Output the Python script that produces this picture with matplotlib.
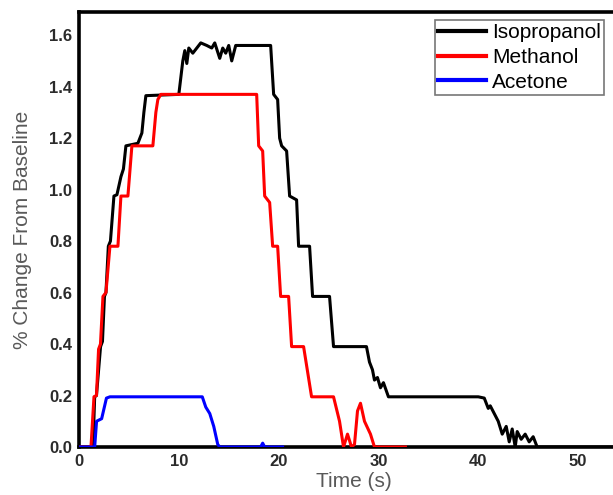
import numpy as np
import matplotlib.pyplot as plt

plt.rcParams['font.family'] = ['Liberation Sans', 'DejaVu Sans']

# time (s) / % change
iso_t = [0, 1.4, 1.57, 1.75, 2.16, 2.35, 2.55, 2.7, 2.94, 3.15, 3.5, 3.8, 4.2, 4.45, 4.7,
         5.9, 6.3, 6.5, 6.7, 10.0, 10.4, 10.6, 10.8, 11.0, 11.4, 12.2, 12.8, 13.3, 13.6,
         14.1, 14.4, 14.7, 15.0, 15.3, 15.7, 19.2, 19.5, 19.9, 20.1, 20.3, 20.8, 21.1,
         21.8, 22.0, 23.1, 23.4, 25.1, 25.5, 28.8, 29.1, 29.4, 29.6, 29.9, 30.2, 30.5,
         31.0, 40.0, 40.6, 41.0, 41.2, 41.6, 42.0, 42.4, 42.8, 43.1, 43.4, 43.7, 43.9,
         44.3, 44.7, 45.1, 45.5, 45.9, 55]
iso_v = [0, 0, 0.195, 0.2, 0.39, 0.41, 0.585, 0.6, 0.78, 0.8, 0.975, 0.98, 1.05, 1.08, 1.17,
         1.18, 1.22, 1.3, 1.365, 1.37, 1.5, 1.54, 1.49, 1.55, 1.53, 1.57, 1.56, 1.55, 1.57,
         1.51, 1.55, 1.53, 1.56, 1.5, 1.56, 1.56, 1.37, 1.35, 1.2, 1.17, 1.15, 0.975,
         0.96, 0.78, 0.78, 0.585, 0.585, 0.39, 0.39, 0.33, 0.3, 0.26, 0.27, 0.23, 0.25,
         0.195, 0.195, 0.19, 0.15, 0.16, 0.13, 0.1, 0.05, 0.08, 0.02, 0.07, 0.0, 0.06,
         0.03, 0.05, 0.02, 0.04, 0.0, 0.0]

meth_t = [0, 1.2, 1.5, 1.75, 1.96, 2.15, 2.4, 2.7, 3.1, 3.9, 4.2, 4.9, 5.3, 7.4, 7.7,
          7.9, 8.2, 17.8, 18.0, 18.4, 18.6, 19.1, 19.4, 19.9, 20.2, 21.0, 21.3, 22.5,
          23.3, 25.5, 26.1, 26.5, 26.9, 27.3, 27.6, 27.9, 28.2, 28.6, 29.2, 29.6, 32.7]
meth_v = [0, 0, 0.195, 0.2, 0.38, 0.4, 0.585, 0.6, 0.78, 0.78, 0.975, 0.975, 1.17, 1.17,
          1.3, 1.35, 1.37, 1.37, 1.17, 1.15, 0.975, 0.95, 0.78, 0.78, 0.585, 0.585, 0.39,
          0.39, 0.195, 0.195, 0.1, 0.0, 0.05, 0.0, 0.01, 0.14, 0.17, 0.1, 0.05, 0.0, 0.0]

acet_t = [0, 1.57, 1.76, 2.27, 2.75, 3.1, 12.35, 12.7, 13.1, 13.5, 13.9, 14.1, 18.2, 18.4,
          18.6, 20.4]
acet_v = [0, 0, 0.1, 0.11, 0.19, 0.195, 0.195, 0.155, 0.13, 0.08, 0.01, 0, 0, 0.015,
          0, 0]

fig = plt.figure(figsize=(6.13, 4.95), dpi=100)
ax = fig.add_axes([79/613, 48/495, 549/613, 435/495])

ax.plot(iso_t, iso_v, color='black', lw=2.2, label='Isopropanol', zorder=3)
ax.plot(meth_t, meth_v, color='#ff0000', lw=2.2, label='Methanol', zorder=4)
ax.plot(acet_t, acet_v, color='#0000ff', lw=2.2, label='Acetone', zorder=5)

ax.set_xlim(0, 55)
ax.set_ylim(0, 1.69)
ax.set_xticks([0, 10, 20, 30, 40, 50])
ax.set_yticks(np.arange(0, 1.61, 0.2))
ax.yaxis.set_major_formatter(plt.FormatStrFormatter('%.1f'))
ax.tick_params(length=0, labelsize=12, labelcolor='#2b2b2b', pad=5)
for lab in ax.get_xticklabels() + ax.get_yticklabels():
    lab.set_fontweight('bold')
for s in ax.spines.values():
    s.set_linewidth(2.6)

ax.set_xlabel('Time (s)', fontsize=15, color='#595959', labelpad=2)
ax.set_ylabel('% Change From Baseline', fontsize=15, color='#595959', labelpad=12)

leg = ax.legend(loc='upper right', bbox_to_anchor=(604/613, 1 - 20/495),
                bbox_transform=fig.transFigure, fontsize=15, frameon=True,
                fancybox=False, borderpad=0.15, handletextpad=0.3, handlelength=2.3,
                labelspacing=0.28, borderaxespad=0)
leg.get_frame().set_edgecolor('#555555')
leg.get_frame().set_linewidth(1.2)
for line in leg.get_lines():
    line.set_linewidth(3)

fig.savefig('out.png', dpi=100)
